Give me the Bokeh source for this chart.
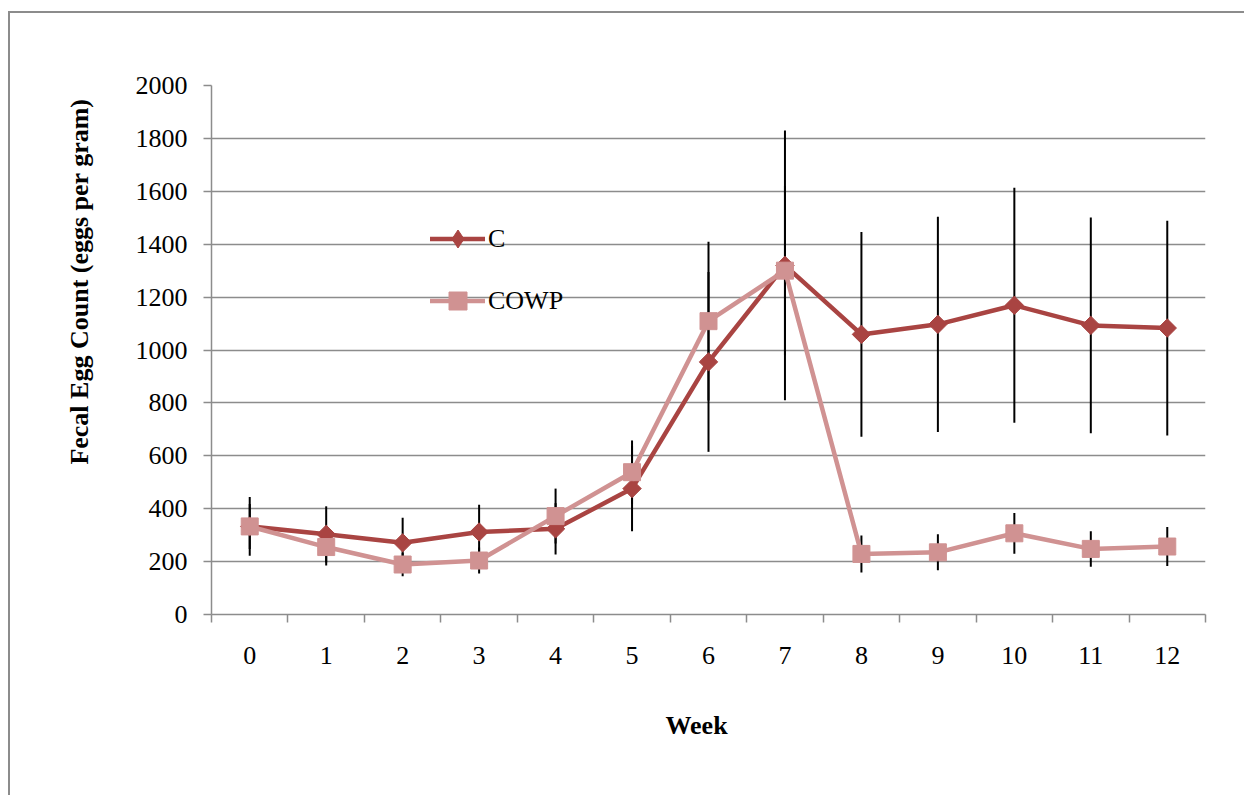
from bokeh.plotting import figure
from bokeh.models import Range1d, FixedTicker, Legend, LegendItem, ColumnDataSource, Title
from bokeh.embed import file_html
from bokeh.resources import INLINE
import math

# ---- data ----
weeks = list(range(13))
week_labels = [str(w) for w in weeks]
c_mean = [333, 303, 271, 312, 324, 476, 955, 1320, 1059, 1097, 1169, 1093, 1083]
c_err = [111, 106, 95, 103, 97, 161, 340, 510, 387, 407, 444, 408, 406]
cowp_mean = [333, 255, 189, 204, 372, 538, 1109, 1300, 229, 235, 307, 248, 257]
cowp_err = [85, 70, 44, 49, 104, 120, 300, 320, 70, 68, 77, 67, 74]
y_ticks = list(range(0, 2001, 200))

C_COLOR = "#A94442"
COWP_COLOR = "#D09292"
GRID = "#8C8C8C"
FONT = "Liberation Serif"

p = figure(width=1236, height=784, output_backend="svg", toolbar_location=None,
           x_range=Range1d(-0.5, 12.5), y_range=Range1d(0, 2000),
           min_border_left=201, min_border_right=41, min_border_top=72, min_border_bottom=183)
p.outline_line_color = None
p.background_fill_color = "white"
p.border_fill_color = "white"
p.styles = {"border-left": "2px solid #8C8C8C", "border-top": "2px solid #8C8C8C",
            "margin-top": "11px", "margin-left": "8px"}

# axes
p.xaxis.ticker = FixedTicker(ticks=weeks, minor_ticks=[w - 0.5 for w in range(14)])
p.xaxis.major_label_overrides = {w: l for w, l in zip(weeks, week_labels)}
p.xaxis.major_tick_line_color = None
p.xaxis.major_tick_out = 0
p.xaxis.major_tick_in = 0
p.xaxis.minor_tick_line_color = GRID
p.xaxis.minor_tick_line_width = 1.5
p.xaxis.minor_tick_out = 8
p.xaxis.minor_tick_in = 0
p.xaxis.major_label_standoff = 24

p.yaxis.ticker = FixedTicker(ticks=y_ticks)
p.yaxis.minor_tick_line_color = None
p.yaxis.major_tick_line_color = GRID
p.yaxis.major_tick_line_width = 1.5
p.yaxis.major_tick_out = 8
p.yaxis.major_tick_in = 0
p.yaxis.major_label_standoff = 16

for ax in (p.xaxis, p.yaxis):
    ax.axis_line_color = GRID
    ax.axis_line_width = 1.5
    ax.major_label_text_font = FONT
    ax.major_label_text_font_size = "26px"
    ax.major_label_text_color = "black"

p.xgrid.grid_line_color = None
p.ygrid.ticker = FixedTicker(ticks=y_ticks)
p.ygrid.grid_line_color = GRID
p.ygrid.grid_line_width = 1.5

# axis titles (off-centre like the original)
ytitle = Title(text="Fecal Egg Count (eggs per gram)", align="right", offset=13,
               standoff=78, text_font=FONT, text_font_size="26px",
               text_font_style="bold", text_color="black")
p.add_layout(ytitle, "left")
xtitle = Title(text="Week", align="left", offset=454, standoff=84,
               text_font=FONT, text_font_size="26px",
               text_font_style="bold", text_color="black")
p.add_layout(xtitle, "below")

# error bars
c_src = ColumnDataSource(dict(x=weeks, y=c_mean,
                              lo=[m - e for m, e in zip(c_mean, c_err)],
                              hi=[m + e for m, e in zip(c_mean, c_err)]))
w_src = ColumnDataSource(dict(x=weeks, y=cowp_mean,
                              lo=[m - e for m, e in zip(cowp_mean, cowp_err)],
                              hi=[m + e for m, e in zip(cowp_mean, cowp_err)]))
p.segment(x0="x", y0="lo", x1="x", y1="hi", source=c_src, line_color="black", line_width=2)
p.segment(x0="x", y0="lo", x1="x", y1="hi", source=w_src, line_color="black", line_width=2)

# series
c_line = p.line("x", "y", source=c_src, line_color=C_COLOR, line_width=4.5,
                line_join="round", line_cap="round")
c_pts = p.scatter("x", "y", source=c_src, marker="square", size=13, angle=math.pi / 4,
                  fill_color=C_COLOR, line_color=C_COLOR)
w_line = p.line("x", "y", source=w_src, line_color=COWP_COLOR, line_width=4.5,
                line_join="round", line_cap="round")
w_pts = p.scatter("x", "y", source=w_src, marker="square", size=17,
                  fill_color=COWP_COLOR, line_color=COWP_COLOR)

# legend-only diamond marker (its single point lies outside the plotted range)
c_key = p.scatter(x=[-10], y=[-1000], marker="diamond", size=10,
                  fill_color=C_COLOR, line_color=C_COLOR)

legend = Legend(items=[LegendItem(label="C", renderers=[c_line, c_key]),
                       LegendItem(label="COWP", renderers=[w_line, w_pts])],
                location=(219, 291), orientation="vertical")
legend.background_fill_alpha = 0
legend.border_line_color = None
legend.padding = 0
legend.margin = 0
legend.spacing = 17
legend.glyph_width = 55
legend.glyph_height = 45
legend.label_height = 30
legend.label_standoff = 3
legend.label_text_font = FONT
legend.label_text_font_size = "26px"
legend.label_text_color = "black"
p.add_layout(legend, "center")

open("out.html", "w").write(file_html(p, INLINE))
